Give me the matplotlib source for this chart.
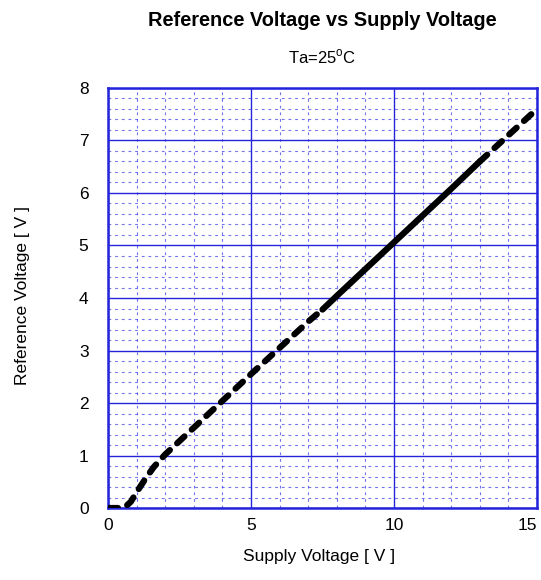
import matplotlib
matplotlib.use("Agg")
import matplotlib.pyplot as plt
from matplotlib.ticker import MultipleLocator

plt.rcParams["font.family"] = ["Liberation Sans", "DejaVu Sans"]

# measured curve (supply V -> reference V)
supply_low = [0.0, 0.4, 0.6, 0.8, 1.0, 1.3, 1.6, 2.0, 3.0, 4.0, 5.0, 6.0, 7.0, 7.5]
vref_low = [0.0, 0.0, 0.02, 0.12, 0.3, 0.55, 0.78, 1.02, 1.53, 2.04, 2.55, 3.05, 3.55, 3.78]
supply_mid = [7.5, 8.0, 9.0, 10.0, 11.0, 12.0, 13.0]
vref_mid = [3.78, 4.04, 4.55, 5.06, 5.57, 6.08, 6.6]
supply_high = [13.0, 14.0, 14.8]
vref_high = [6.6, 7.1, 7.5]

x_ticks = [0, 5, 10, 15]
x_labels = ["0", "5", "10", "15"]

BLUE = "#2424dc"
LIGHT_BLUE = "#4444e6"

fig = plt.figure(figsize=(5.41, 5.80), dpi=100)
ax = fig.add_axes([0.1996, 0.1241, 0.793, 0.7242])

ax.plot(supply_low, vref_low, color="black", lw=4.5, linestyle=(0, (1.6, 1.6)),
        dash_capstyle="round", solid_capstyle="round", zorder=3)
ax.plot(supply_mid, vref_mid, color="black", lw=4.5, solid_capstyle="round", zorder=3)
ax.plot(supply_high, vref_high, color="black", lw=4.5, linestyle=(0, (1.6, 1.6)),
        dash_capstyle="round", zorder=3)

ax.set_xlim(0, 15)
ax.set_ylim(0, 8)
# last x label is drawn separately so it stays inside the figure edge
ax.set_xticks(x_ticks, x_labels[:-1] + [""])
ax.text(x_ticks[-1], -0.023, x_labels[-1], transform=ax.get_xaxis_transform(),
        ha="right", va="top", fontsize=12.5)
ax.xaxis.set_minor_locator(MultipleLocator(1))
ax.yaxis.set_major_locator(MultipleLocator(1))
ax.yaxis.set_minor_locator(MultipleLocator(0.2))
ax.grid(which="major", color=BLUE, lw=1.0, linestyle="-")
ax.grid(which="minor", color=LIGHT_BLUE, lw=0.8, linestyle=(0, (2.5, 3.5)), alpha=0.75)
ax.tick_params(which="both", length=0, labelsize=12.5)
ax.tick_params(axis="x", pad=7)
ax.tick_params(axis="y", pad=14)
for s in ax.spines.values():
    s.set_color(BLUE)
    s.set_linewidth(1.8)

fig.text(0.595, 0.965, "Reference Voltage vs Supply Voltage", ha="center", va="center",
         fontsize=14.4, fontweight="bold")
fig.text(0.595, 0.902, r"Ta=25$^\mathregular{o}$C", ha="center", va="center", fontsize=12)
fig.text(0.041, 0.49, "Reference Voltage [ V ]", rotation=90, ha="center", va="center",
         fontsize=12.5)
fig.text(0.59, 0.04, "Supply Voltage [ V ]", ha="center", va="center", fontsize=12.5)

fig.savefig("out.png", dpi=100)
